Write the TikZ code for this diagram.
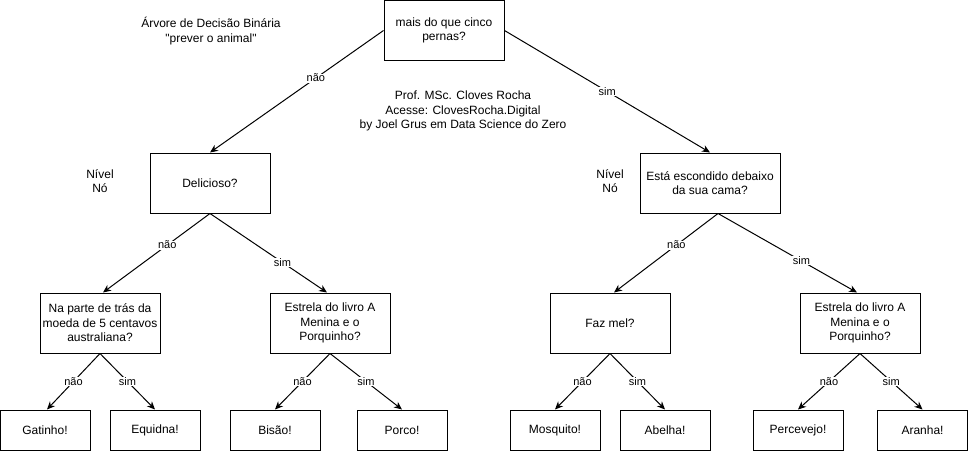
\documentclass[tikz,border=0pt]{standalone}
\usepackage{fontspec}
\setmainfont{Liberation Sans}
\usetikzlibrary{arrows.meta}
\begin{document}
\begin{tikzpicture}[x=1pt,y=-1pt,
  box/.style={draw,line width=1pt,inner sep=0pt,align=center,font=\fontsize{12}{14.5}\selectfont},
  qbox/.style={box,minimum width=120pt,minimum height=60pt},
  leaf/.style={box,minimum width=90pt,minimum height=40pt},
  conn/.style={line width=1pt,-{Stealth[length=8pt,width=7pt,inset=2.5pt]}},
  lbl/.style={fill=white,inner sep=0.5pt,font=\fontsize{11}{13}\selectfont},
  txt/.style={align=center,font=\fontsize{12}{14.5}\selectfont}]
\useasboundingbox (0,0) rectangle (968,452);
% title texts
\node[txt] (title) at (211,31) {Árvore de Decisão Binária\\\textquotedbl prever o animal\textquotedbl};
\node[txt] (prof) at (463,111) {Prof. MSc. Cloves Rocha\\Acesse: ClovesRocha.Digital\\by Joel Grus em Data Science do Zero};
\node[txt] (nivel1) at (100,181) {Nível\\Nó};
\node[txt] (nivel2) at (610,181) {Nível\\Nó};
% question nodes
\node[qbox] (root) at (444,30.5) {mais do que cinco\\pernas?};
\node[qbox] (del) at (210,183) {Delicioso?};
\node[qbox,minimum width=140pt] (est) at (710,183) {Está escondido debaixo\\da sua cama?};
\node[qbox] (aus) at (100,323) {Na parte de trás da\\moeda de 5 centavos\\australiana?};
\node[qbox] (por1) at (330,323) {Estrela do livro A\\Menina e o\\Porquinho?};
\node[qbox] (mel) at (610,323) {Faz mel?};
\node[qbox] (por2) at (860,323) {Estrela do livro A\\Menina e o\\Porquinho?};
% leaves
\node[leaf] (gat) at (45,430) {Gatinho!};
\node[leaf] (equ) at (155,430) {Equidna!};
\node[leaf] (bis) at (275,430) {Bisão!};
\node[leaf] (porco) at (402,430) {Porco!};
\node[leaf] (mosq) at (555,430) {Mosquito!};
\node[leaf] (abe) at (665,430) {Abelha!};
\node[leaf] (perc) at (798,430) {Percevejo!};
\node[leaf] (ara) at (922.5,430) {Aranha!};
% connectors
\draw[conn] (root.west) -- node[lbl,pos=0.39] {não} (del.north);
\draw[conn] (root.east) -- node[lbl,pos=0.5] {sim} (est.north);
\draw[conn] (del.south) -- node[lbl,pos=0.4] {não} ([xshift=3pt]aus.north);
\draw[conn] (del.south) -- node[lbl,pos=0.62] {sim} ([xshift=-3pt]por1.north);
\draw[conn] ([xshift=8pt]est.south) -- node[lbl,pos=0.4] {não} ([xshift=4pt]mel.north);
\draw[conn] ([xshift=8pt]est.south) -- node[lbl,pos=0.6] {sim} ([xshift=-3pt]por2.north);
\draw[conn] (aus.south) -- node[lbl,pos=0.5] {não} ([xshift=2pt]gat.north);
\draw[conn] (aus.south) -- node[lbl,pos=0.5] {sim} (equ.north);
\draw[conn] (por1.south) -- node[lbl,pos=0.5] {não} (bis.north);
\draw[conn] (por1.south) -- node[lbl,pos=0.5] {sim} (porco.north);
\draw[conn] (mel.south) -- node[lbl,pos=0.5] {não} (mosq.north);
\draw[conn] (mel.south) -- node[lbl,pos=0.5] {sim} (abe.north);
\draw[conn] (por2.south) -- node[lbl,pos=0.5] {não} (perc.north);
\draw[conn] (por2.south) -- node[lbl,pos=0.5] {sim} (ara.north);
\end{tikzpicture}
\end{document}
